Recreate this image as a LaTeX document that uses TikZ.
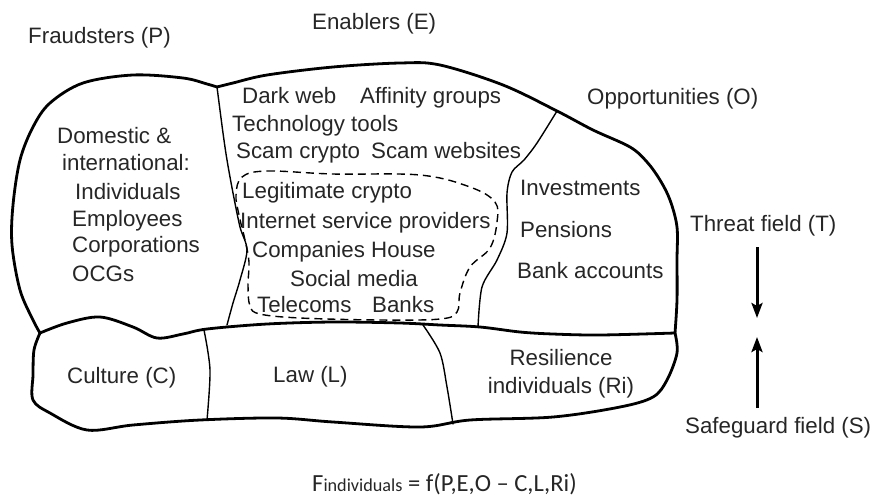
\documentclass[tikz,border=0pt]{standalone}
\usepackage{fontspec}
\setmainfont{Liberation Sans}
\newfontfamily\formfont{Carlito}
\usetikzlibrary{arrows.meta}
\begin{document}
\begin{tikzpicture}[x=1pt,y=-1pt,
  outline/.style={line width=2.8pt, line join=round, line cap=round},
  divider/.style={line width=1.4pt, line cap=round},
  dashline/.style={line width=1.4pt, dash pattern=on 8pt off 5pt},
  lbl/.style={font=\fontsize{22.3}{26}\selectfont, inner sep=0pt, anchor=base west, text=black!85},
  fieldarrow/.style={line width=3pt, -{Stealth[length=15pt,width=11pt,inset=3pt]}}
]
\useasboundingbox (0,0) rectangle (874,496);

% top blob outline
\draw[outline] plot[smooth, tension=0.55] coordinates {(40,333) (33,320) (20,290) (12,245) (13,205) (20,160) (33,127) (50,103) (83,83) (133,75) (183,78) (207,84) (217,87)};
\draw[outline] plot[smooth, tension=0.55] coordinates {(217,87) (233,83) (267,75) (333,67) (400,63) (440,65) (503,85) (557,111) (593,130) (630,147) (647,162) (660,180) (670,200) (677,227) (677,260) (677,300) (675,333)};
% shared boundary
\draw[outline] plot[smooth, tension=0.55] coordinates {(40,333) (67,323) (100,317) (133,327) (157,338) (183,334) (207,329) (267,324) (333,322) (400,323) (440,325) (480,327) (520,332) (553,334) (600,335) (675,333)};
% bottom band
\draw[outline] plot[smooth, tension=0.55] coordinates {(40,333) (34,350) (33,375) (33,400) (50,413) (87,430) (133,425) (200,420) (277,418) (333,422) (420,427) (470,420) (553,417) (620,407) (653,397) (667,380) (677,353) (675,333)};

% dividers
\draw[divider] plot[smooth] coordinates {(217,87) (223,133) (227,160) (233,193) (240,227) (247,250) (240,280) (233,303) (227,325)};
\draw[divider] plot[smooth] coordinates {(557,111) (537,143) (524,160) (512,172) (507,193) (507,233) (497,260) (482,287) (478,327)};
\draw[divider] plot[smooth] coordinates {(204,330) (210,370) (207,420)};
\draw[divider] plot[smooth] coordinates {(423,325) (440,353) (447,387) (453,424)};

% dashed region
\draw[dashline] plot[smooth cycle, tension=0.6] coordinates {(242,177) (267,171) (333,174) (420,175) (470,187) (495,202) (497,222) (490,248) (470,267) (460,293) (457,312) (440,319) (380,320) (300,318) (260,314) (250,306) (248,285) (249,262) (245,240) (239,215) (236,195)};

% labels
\node[lbl] (fraud) at (28,43) {Fraudsters (P)};
\node[lbl] (enab) at (312,29) {Enablers (E)};
\node[lbl] (opp) at (587,104) {Opportunities (O)};
\node[lbl] (dark) at (242,103) {Dark web};
\node[lbl] (aff) at (360,103) {Affinity groups};
\node[lbl] (tech) at (232,131) {Technology tools};
\node[lbl] (scamc) at (236,158) {Scam crypto};
\node[lbl] (scamw) at (371,158) {Scam websites};
\node[lbl] (dom) at (57,143) {Domestic \&};
\node[lbl] (intl) at (62,170) {international:};
\node[lbl] (indiv) at (75,199) {Individuals};
\node[lbl] (empl) at (72,226) {Employees};
\node[lbl] (corp) at (72,252) {Corporations};
\node[lbl] (ocg) at (72,281) {OCGs};
\node[lbl] (legit) at (242,198) {Legitimate crypto};
\node[lbl] (isp) at (240,228) {Internet service providers};
\node[lbl] (comp) at (252,257) {Companies House};
\node[lbl] (social) at (290,286) {Social media};
\node[lbl] (tele) at (257,312) {Telecoms};
\node[lbl] (banks) at (372,312) {Banks};
\node[lbl] (inv) at (520,195) {Investments};
\node[lbl] (pens) at (520,237) {Pensions};
\node[lbl] (bank) at (517,278) {Bank accounts};
\node[lbl] (threat) at (690,231) {Threat field (T)};
\node[lbl] (cult) at (67,383) {Culture (C)};
\node[lbl] (law) at (273,382) {Law (L)};
\node[lbl,anchor=base] (resil) at (561,365) {Resilience};
\node[lbl,anchor=base] (resil2) at (561,393) {individuals (Ri)};
\node[lbl] (safe) at (685,433) {Safeguard field (S)};
\node[inner sep=0pt, anchor=base west, text=black!85, font=\formfont\fontsize{24.6}{28}\selectfont] (formula) at (312,491) {F{\fontsize{18.2}{20}\selectfont individuals} = f(P,E,O – C,L,Ri)};

% field arrows
\coordinate (t1) at (757,247);
\coordinate (t2) at (757,318);
\coordinate (s1) at (757,408);
\coordinate (s2) at (757,337);
\draw[fieldarrow] (t1) -- (t2);
\draw[fieldarrow] (s1) -- (s2);
\end{tikzpicture}
\end{document}
